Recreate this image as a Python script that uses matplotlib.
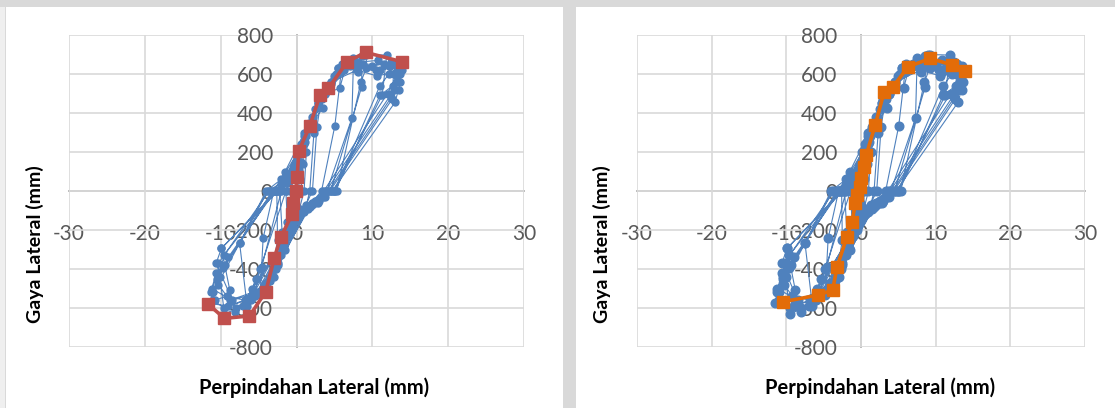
import matplotlib
matplotlib.use("Agg")
import matplotlib.pyplot as plt
from matplotlib.patches import Rectangle

# ---------------- data ----------------
# hysteresis test points (displacement mm, force)
blue_x = [
    0.0, 0.3, 0.6, 0.4, 0.2, -0.2, -0.5, -0.3, -0.2,
    0.3, 0.8, 1.1, 0.8, 0.6, 0.1, -0.7, -1.0, -0.7, -0.8,
    0.1, 1.0, 1.7, 1.3, 1.0, 0.4, -1.1, -1.6, -1.2, -1.4,
    -0.2, 1.2, 2.2, 2.8, 2.3, 1.75, 1.3, -0.6, -2.0, -2.5, -1.9, -2.2,
    -1.1, 0.5, 2.0, 3.5, 3.3, 2.7, 2.1, 1.0, -1.5, -2.7, -3.2, -2.5, -2.6,
    -1.0, 1.0, 3.0, 4.5, 5.5, 5.9, 5.05, 3.3, 2.0, 0.5, -2.5, -4.0, -4.8, -4.4, -3.0,
    -1.5, 1.5, 3.8, 5.7, 6.5, 7.5, 7.3, 4.0, 2.5, 1.0, -3.0, -5.2, -6.6, -7.5, -4.0,
    -2.0, 0.2, 2.5, 4.5, 6.0, 8.1, 8.6, 8.6, 4.5, 3.0, 1.5, -3.5, -6.0, -8.1, -8.8, -9.9, -2.6,
    -1.0, 1.0, 3.5, 5.5, 7.5, 9.2, 9.2, 8.5, 5.3, 3.8, 1.8, -4.0, -7.0, -9.5, -10.1, -9.7, -3.2,
    -1.2, 0.8, 3.0, 6.0, 9.0, 11.9, 11.3, 4.9, 2.5, 0.5, -4.5, -8.0, -10.6, -9.9, -2.4,
    -0.8, 1.5, 4.0, 7.0, 10.0, 12.5, 12.2, 11.0, 5.0, 3.0, 0.0, -5.0, -8.5, -11.2, -10.4, -10.3, -3.6,
    -1.3, 1.2, 3.8, 7.0, 11.0, 13.5, 13.7, 13.0, 4.7, 2.8, -0.5, -5.5, -9.0, -11.5, -11.0, -7.5, -3.8,
    -1.6, 1.0, 4.2, 7.5, 10.5, 12.2, 13.9, 13.5, 12.5, 4.2, 2.0, -1.0, -6.0, -9.5, -11.0, -10.5, -9.0, -2.8,
    -2.0, 0.5, 2.8, 5.0, 7.8, 10.8, 12.8, 13.2, 12.0, 3.6, 1.5, -2.0, -5.8, -8.8, -10.3, -9.6, -2.9,
    -1.4, 0.6, 3.3, 6.2, 8.8, 11.5, 12.8, 12.7, 11.0, 5.1, 3.5, 0.8, -4.2, -6.3, -5.4, -4.6, -2.0,
    -0.9, 1.7, 4.6, 8.0, 10.6, 13.1, 13.6, 12.9, 3.9, 2.2, -1.5, -5.9, -6.5, -5.6, -4.8, -1.4,
    -0.5, 2.0, 5.2, 8.0, 10.8, 12.3, 13.3, 12.6, 4.4, 2.6, -1.2, -6.8, -9.2, -10.8, -11.3, -10.6, -9.4, -3.0, 0.0,
]
blue_y = [
    0, 80, 150, 60, 0, -60, -110, -40, 0,
    110, 200, 250, 140, 0, -80, -170, -210, -110, 0,
    120, 240, 320, 200, 0, -90, -230, -290, -160, 0,
    130, 280, 380, 450, 300, 0, -72, -200, -330, -370, -210, 0,
    48, 200, 350, 424, 480, 330, 0, -90, -300, -400, -420, -250, 0,
    80, 260, 470, 550, 630, 612, 333, 0, -60, -120, -380, -480, -533, -242, 0,
    100, 330, 500, 527, 640, 650, 373, 0, -50, -110, -440, -520, -560, -268, 0,
    60, 200, 420, 560, 650, 612, 690, 535, 0, -40, -90, -460, -560, -619, -508, -294, 0,
    60, 300, 500, 630, 680, 700, 630, 560, 0, -30, -80, -480, -590, -630, -439, -396, 0,
    50, 250, 480, 640, 700, 697, 492, 0, -60, -120, -500, -600, -371, -294, 0,
    80, 320, 520, 650, 640, 660, 600, 540, 0, -50, -150, -520, -560, -500, -439, -371, 0,
    40, 300, 500, 640, 620, 640, 557, 455, 0, -60, -180, -540, -590, -576, -520, -268, 0,
    50, 280, 540, 660, 620, 640, 620, 520, 480, 0, -70, -200, -550, -600, -560, -450, -340, 0,
    30, 220, 450, 590, 640, 610, 650, 590, 500, 0, -80, -260, -520, -560, -480, -330, 0,
    60, 240, 470, 620, 650, 650, 600, 540, 490, 0, -30, -100, -470, -560, -450, -390, 0,
    90, 350, 560, 620, 590, 610, 600, 520, 0, -60, -240, -500, -590, -540, -400, 0,
    60, 380, 600, 660, 670, 640, 560, 470, 0, -50, -230, -560, -540, -560, -520, -420, -380, 0, 0,
]
assert len(blue_x) == len(blue_y)

# envelope curve, left chart
red_x = [-11.7, -9.5, -6.2, -4.05, -2.95, -2.07, -0.6, -0.45, -0.1, 0.1, 0.3, 1.75, 3.1, 4.2, 6.7, 9.1, 13.9]
red_y = [-579, -653, -641, -516, -345, -237, -120, -63, 0, 74, 205, 333, 492, 527, 663, 711, 663]

# envelope curve, right chart
orange_x = [-10.4, -5.7, -3.8, -3.2, -1.9, -1.2, -0.75, -0.5, -0.2, 0.0, 0.35, 0.7, 1.9, 3.1, 4.3, 6.3, 9.3, 12.2, 13.9]
orange_y = [-568, -533, -508, -388, -237, -157, -63, -20, 20, 65, 125, 185, 338, 509, 535, 637, 680, 646, 617]

x_ticks = [-30, -20, -10, 0, 10, 20, 30]
y_ticks = [-800, -600, -400, -200, 0, 200, 400, 600, 800]
x_title = "Perpindahan Lateral (mm)"
y_title = "Gaya Lateral (mm)"

# ---------------- figure ----------------
plt.rcParams["font.family"] = ["Lato", "DejaVu Sans"]
plt.rcParams["axes.unicode_minus"] = False
W, H = 1115, 408
fig = plt.figure(figsize=(W / 100, H / 100), dpi=100, facecolor="#d9d9d9")


def px_rect(x0, y0, x1, y1, color):
    fig.patches.append(Rectangle((x0 / W, 1 - y1 / H), (x1 - x0) / W, (y1 - y0) / H,
                                 transform=fig.transFigure, facecolor=color,
                                 edgecolor="none", zorder=-10))


px_rect(0, 7, 5, 408, "#efefef")
px_rect(6, 7, 563, 408, "white")
px_rect(576, 7, 1115, 408, "white")

BLUE = "#4f81bd"


def panel(x0, x1, env_x, env_y, env_color, blue_ms, ylab_x, xlab_x):
    y0, y1 = 35, 347
    ax = fig.add_axes([x0 / W, 1 - y1 / H, (x1 - x0) / W, (y1 - y0) / H], zorder=2)
    ax.set_facecolor("none")
    ax.set_xlim(-30, 30)
    ax.set_ylim(-800, 800)
    ax.set_xticks(x_ticks)
    ax.set_yticks(y_ticks)
    ax.grid(True, color="#d9d9d9", linewidth=1.2)
    ax.set_axisbelow(True)
    for s in ["top", "right"]:
        ax.spines[s].set_visible(False)
    ax.spines["left"].set_position(("data", 0))
    ax.spines["bottom"].set_position(("data", 0))
    for s in ["left", "bottom"]:
        ax.spines[s].set_color("#bcbcbc")
        ax.spines[s].set_linewidth(1.4)
        ax.spines[s].set_zorder(0.5)
    ax.tick_params(axis="both", length=0, labelsize=15, labelcolor="#595959")
    ax.tick_params(axis="y", pad=17)
    ax.tick_params(axis="x", pad=24)
    ax.plot(blue_x, blue_y, color=BLUE, linewidth=0.8, marker="o",
            markersize=blue_ms, markerfacecolor=BLUE, markeredgecolor=BLUE, zorder=3)
    ax.plot(env_x, env_y, color=env_color, linewidth=2.6, marker="s",
            markersize=9, markerfacecolor=env_color, markeredgecolor=env_color, zorder=4)
    fig.text(ylab_x / W, 1 - 244 / H, y_title, rotation=90, ha="center", va="center",
             fontsize=14, fontweight="bold", color="black")
    fig.text(xlab_x / W, 1 - 388 / H, x_title, ha="center", va="center",
             fontsize=14.5, fontweight="bold", color="black")
    return ax


panel(69, 524, red_x, red_y, "#c0504d", 5.0, 35, 314)
panel(637, 1085, orange_x, orange_y, "#e36c09", 6.2, 602, 880)

fig.savefig("out.png", dpi=100, facecolor=fig.get_facecolor())
